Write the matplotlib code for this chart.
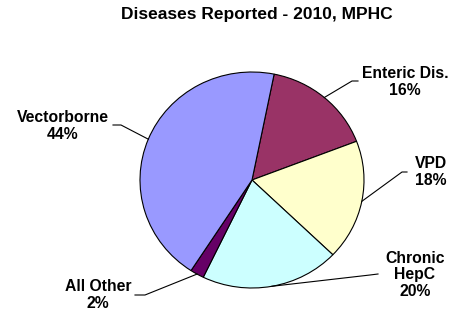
import numpy as np
import matplotlib
matplotlib.use("Agg")
import matplotlib.pyplot as plt

categories = ["Enteric Dis.", "VPD", "Chronic\nHepC", "All Other", "Vectorborne"]
values = [16, 18, 20, 2, 44]
colors = ["#993366", "#FFFFCC", "#CCFFFF", "#660066", "#9999FF"]
title = "Diseases Reported - 2010, MPHC"

# label layout (pixel coords, y downward): text center, elbow point, elbow end
label_pos = [(405, 82), (431, 172), (415, 275), (98, 295), (63, 126)]
elbow = [((352, 81), (358, 81)), ((402, 172), (407, 172)), ((370, 275), (378, 274)),
         ((145, 295), (135, 295)), ((121, 125), (113, 125))]

W, H = 455, 314
fig = plt.figure(figsize=(W / 100, H / 100), dpi=100)
fig.patch.set_facecolor("white")
cx, cy, rx, ry = 252, 180, 112, 108
ax = fig.add_axes([(cx - rx) / W, (H - cy - ry) / H, 2 * rx / W, 2 * ry / H])
wedges, _ = ax.pie(values, colors=colors, startangle=78.6, counterclock=False, radius=1,
                   wedgeprops=dict(edgecolor="black", linewidth=0.8))
ax.set_aspect("auto")
ax.set_xlim(-1, 1)
ax.set_ylim(-1, 1)
ax.axis("off")

ov = fig.add_axes([0, 0, 1, 1], zorder=5)
ov.set_xlim(0, W)
ov.set_ylim(H, 0)
ov.axis("off")
ov.patch.set_alpha(0)

fig.canvas.draw()
font = dict(family="Liberation Sans", fontweight="bold", fontsize=11.3)
for w, cat, v, (tx, ty), (e1, e2) in zip(wedges, categories, values, label_pos, elbow):
    mid = np.deg2rad((w.theta1 + w.theta2) / 2)
    px, py = ax.transData.transform((np.cos(mid), np.sin(mid)))
    ex, ey = px, H - py
    ov.plot([ex, e1[0], e2[0]], [ey, e1[1], e2[1]], color="black", lw=0.8)
    ov.text(tx, ty, f"{cat}\n{v}%", ha="center", va="center", linespacing=1.1, **font)

ov.text(257, 15, title, ha="center", va="center", family="Liberation Sans",
        fontweight="bold", fontsize=12.5)

fig.savefig("out.png", dpi=100, facecolor="white")
